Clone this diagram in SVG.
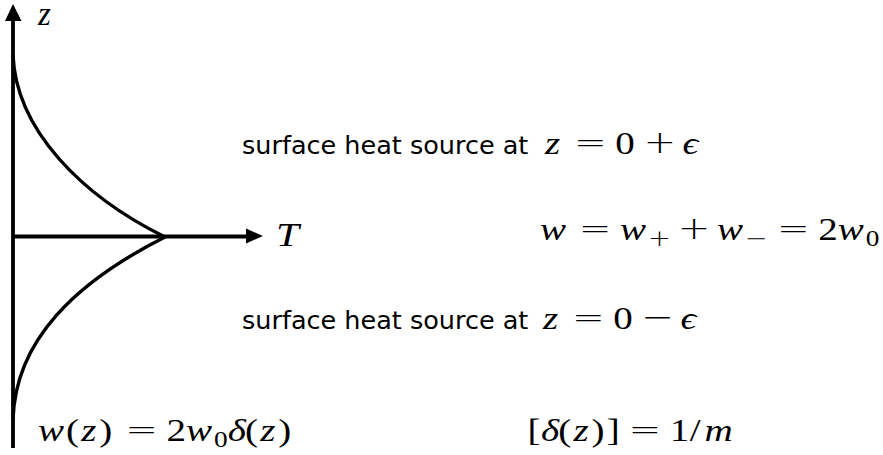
<svg xmlns="http://www.w3.org/2000/svg" width="883" height="455" viewBox="0 0 883 455">
<style>
.ax{stroke:#000;stroke-width:3.8;fill:none}
.cv{stroke:#000;stroke-width:3.4;fill:none}
.lbl{font-family:"DejaVu Sans",sans-serif;font-size:25.5px;fill:#000}
.m{font-family:"Liberation Serif","DejaVu Serif",serif;font-size:32px;fill:#000}
.i{font-style:italic}
.o{font-family:"DejaVu Sans",sans-serif;font-weight:200}
.s{font-size:22.4px}
</style>
<g id="connectors">
<path id="z-axis" class="ax" d="M13,448 L13,18"/>
<path d="M5,21 L13,4 L21.5,21 z" fill="#000"/>
<path id="t-axis" class="ax" d="M13,236.5 L248,236.5"/>
<path d="M246,228.5 L263,236 L246,243.5 z" fill="#000"/>
</g>
<g id="curves">
<path id="upper-curve" class="cv" d="M13,55 C16,130 82,196 165,237"/>
<path id="lower-curve" class="cv" d="M165,237 C76,282 15,340 13,420"/>
</g>
<g id="label-z">
<text class="m i" x="38" y="25" style="font-size:33px">z</text>
</g>
<g id="label-T">
<text class="m i" transform="translate(276,246) scale(1.25,1)" x="0" y="0" style="font-size:33px">T</text>
</g>
<g id="source-plus">
<text class="lbl" x="242" y="154">surface heat source at</text>
<text class="m" transform="translate(545,154) scale(1.22,1)"><tspan class="i" x="0" y="0">z</tspan><tspan class="o" x="23.8" y="-1">=</tspan><tspan x="57.6" y="0">0</tspan><tspan class="o" x="80.7" y="-1">+</tspan><tspan class="i" x="112.7" y="0">ϵ</tspan></text>
</g>
<g id="total">
<text class="m" transform="translate(540,240) scale(1.22,1)"><tspan class="i" x="0" y="0">w</tspan><tspan class="o" x="31.8" y="-1">=</tspan><tspan class="i" x="65.6" y="0">w</tspan><tspan class="o s" x="88.5" y="6">+</tspan><tspan class="o" x="113" y="-1">+</tspan><tspan class="i" x="145" y="0">w</tspan><tspan class="o s" x="168" y="6">−</tspan><tspan class="o" x="194.3" y="-1">=</tspan><tspan x="228.1" y="0">2</tspan><tspan class="i" x="244.1" y="0">w</tspan><tspan class="s" x="267" y="6">0</tspan></text>
</g>
<g id="source-minus">
<text class="lbl" x="242" y="329">surface heat source at</text>
<text class="m" transform="translate(543,329) scale(1.22,1)"><tspan class="i" x="0" y="0">z</tspan><tspan class="o" x="23.8" y="-1">=</tspan><tspan x="57.6" y="0">0</tspan><tspan class="o" x="80.7" y="-1">−</tspan><tspan class="i" x="112.7" y="0">ϵ</tspan></text>
</g>
<g id="density">
<text class="m" transform="translate(38,441) scale(1.22,1)"><tspan class="i" x="0" y="0">w</tspan><tspan x="22.9" y="0">(</tspan><tspan class="i" x="35.4" y="0">z</tspan><tspan x="50.2" y="0">)</tspan><tspan class="o" x="71.6" y="-1">=</tspan><tspan x="105.4" y="0">2</tspan><tspan class="i" x="121.4" y="0">w</tspan><tspan class="s" x="144.3" y="6">0</tspan><tspan class="i" x="155.5" y="0">δ</tspan><tspan x="169.7" y="0">(</tspan><tspan class="i" x="182.1" y="0">z</tspan><tspan x="197" y="0">)</tspan></text>
</g>
<g id="units">
<text class="m" transform="translate(530,441) scale(1.22,1)"><tspan x="-2" y="0">[</tspan><tspan class="i" x="9" y="0">δ</tspan><tspan x="23.1" y="0">(</tspan><tspan class="i" x="35.6" y="0">z</tspan><tspan x="50.4" y="0">)</tspan><tspan x="62.9" y="0">]</tspan><tspan class="o" x="80.7" y="-1">=</tspan><tspan x="114.5" y="0">1</tspan><tspan x="131" y="0">/</tspan><tspan class="i" x="143" y="0">m</tspan></text>
</g>
</svg>
